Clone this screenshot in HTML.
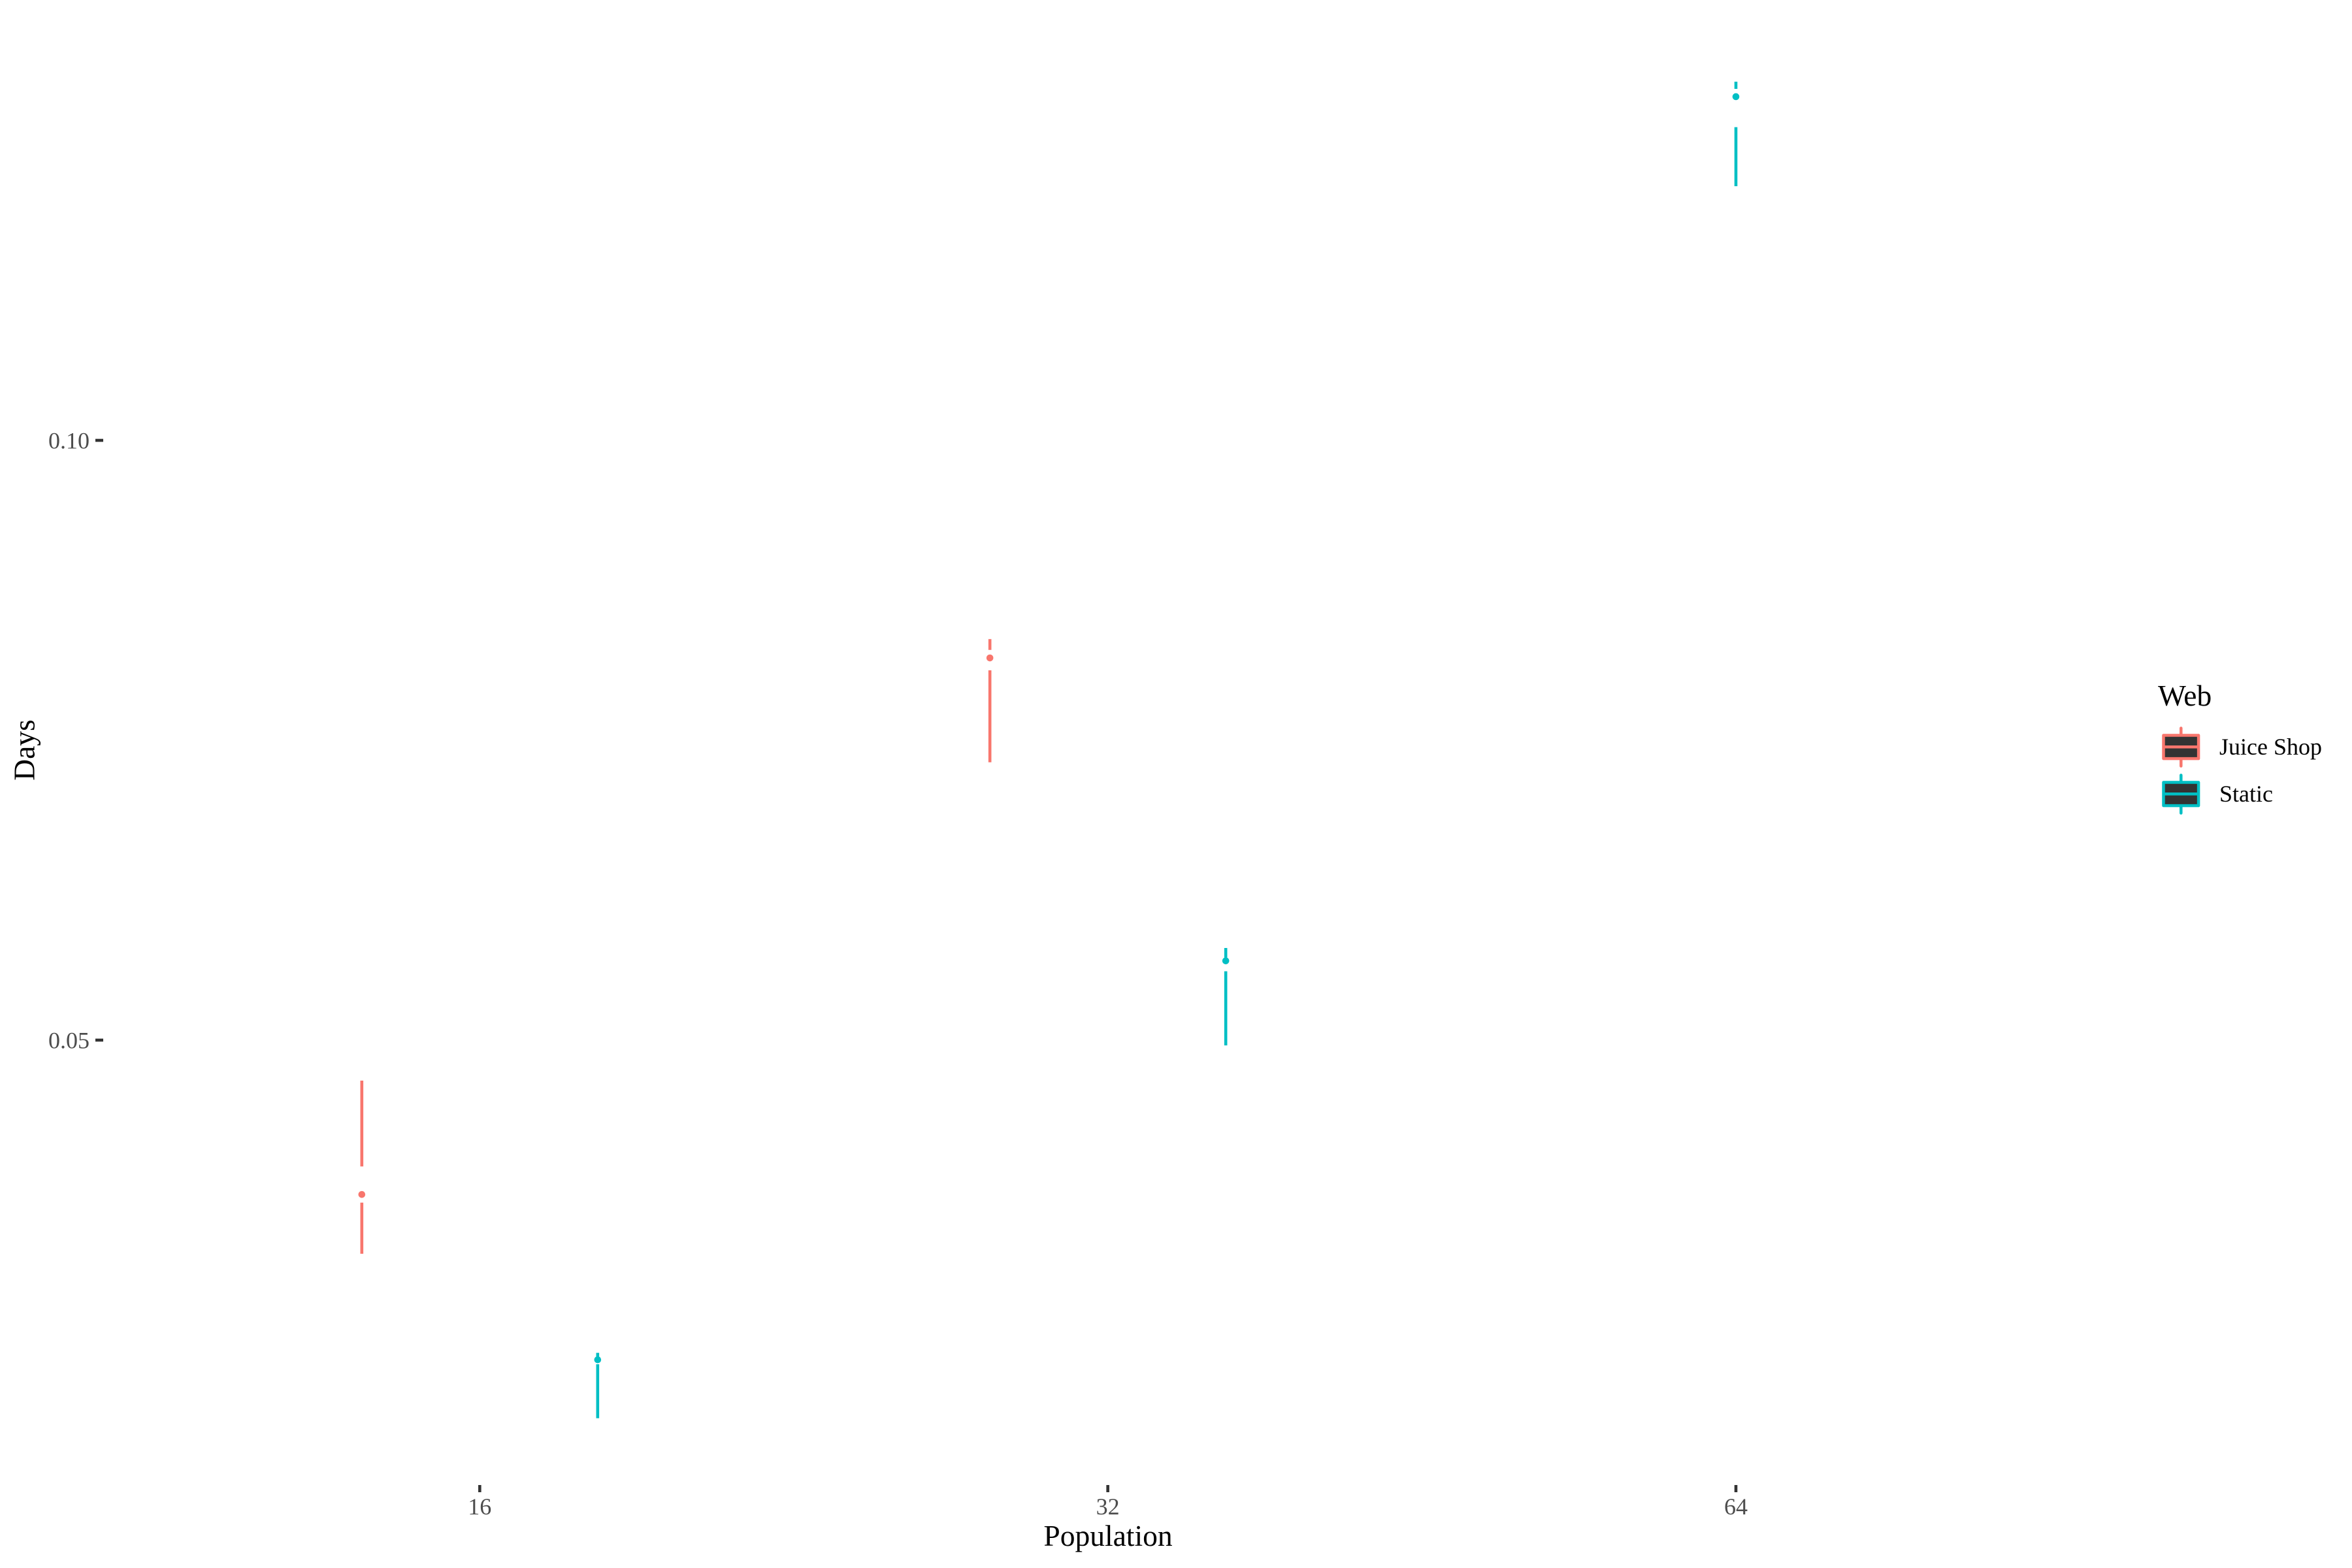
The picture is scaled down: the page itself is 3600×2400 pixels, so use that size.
<!DOCTYPE html>
<html lang="en">
<head>
<meta charset="utf-8">
<title>Days by Population and Web</title>
<style>
html,body{margin:0;padding:0;background:#fff;}
svg{display:block;}
text{font-family:"Liberation Serif",serif;}
</style>
</head>
<body>
<svg id="chart" xmlns="http://www.w3.org/2000/svg" width="3600" height="2400" viewBox="0 0 3600 2400">
  <rect x="0" y="0" width="3600" height="2400" fill="#ffffff"/>
  <g id="y-axis"></g>
  <g id="x-axis"></g>
  <g id="marks"></g>
  <text x="1696" y="2366" text-anchor="middle" font-size="45.5" fill="#000000">Population</text>
  <text x="52.7" y="1148" text-anchor="middle" font-size="45.5" fill="#000000" transform="rotate(-90 52.7 1148)">Days</text>
  <g>
    <text x="3303" y="1080" font-size="45.5" fill="#000000">Web</text>
    <g>
      <line x1="3338.3" x2="3338.3" y1="1114.5" y2="1172.5" stroke="#F8766D" stroke-width="4.5" stroke-linecap="round"/>
      <rect x="3311.5" y="1125.5" width="53.6" height="35.6" fill="#333333" stroke="#F8766D" stroke-width="4.5" stroke-linejoin="round"/>
      <line x1="3311.5" x2="3365.1" y1="1143.3" y2="1143.3" stroke="#F8766D" stroke-width="4.5"/>
      <text x="3397" y="1155" font-size="36" fill="#000000">Juice Shop</text>
    </g>
    <g>
      <line x1="3338.3" x2="3338.3" y1="1186.5" y2="1244.5" stroke="#00BFC4" stroke-width="4.5" stroke-linecap="round"/>
      <rect x="3311.5" y="1197.5" width="53.6" height="35.6" fill="#333333" stroke="#00BFC4" stroke-width="4.5" stroke-linejoin="round"/>
      <line x1="3311.5" x2="3365.1" y1="1215.3" y2="1215.3" stroke="#00BFC4" stroke-width="4.5"/>
      <text x="3397" y="1227" font-size="36" fill="#000000">Static</text>
    </g>
  </g>
</svg>
<script>
// Chart data
var populations = [16, 32, 64];
var xTickLabels = ['16', '32', '64'];
var yTickValues = [0.05, 0.10];
var yTickLabels = ['0.05', '0.10'];

var juiceMax    = [0.04662, 0.08343, null];
var juiceUpper  = [0.03947, 0.08253, null];
var juiceMedian = [0.03713, 0.08186, null];
var juiceLower  = [0.03645, 0.08083, null];
var juiceMin    = [0.03219, 0.07316, null];

var staticMax    = [0.02393, 0.05768, 0.12990];
var staticUpper  = [0.02353, 0.05688, 0.12930];
var staticMedian = [0.02335, 0.05661, 0.12865];
var staticLower  = [0.02298, 0.05574, 0.12611];
var staticMin    = [0.01848, 0.04956, 0.12119];

// Axis functions (log2 x scale, linear y scale)
function xScale(p) { return 734.3 + (Math.log(p / 16) / Math.LN2) * 961.35; }
function yScale(v) { return 674 + (0.10 - v) * 18360; }

var SVG_NS = 'http://www.w3.org/2000/svg';
var marks = document.getElementById('marks');
var yAxis = document.getElementById('y-axis');
var xAxis = document.getElementById('x-axis');
var DODGE = 180.5;
var WHISKER_W = 4.6;

function addLine(parent, x1, y1, x2, y2, color, width) {
  var l = document.createElementNS(SVG_NS, 'line');
  l.setAttribute('x1', x1);
  l.setAttribute('y1', y1);
  l.setAttribute('x2', x2);
  l.setAttribute('y2', y2);
  l.setAttribute('stroke', color);
  l.setAttribute('stroke-width', width);
  parent.appendChild(l);
  return l;
}

function addText(parent, x, y, str, anchor) {
  var t = document.createElementNS(SVG_NS, 'text');
  t.setAttribute('x', x);
  t.setAttribute('y', y);
  t.setAttribute('text-anchor', anchor);
  t.setAttribute('font-size', '36');
  t.setAttribute('fill', '#4D4D4D');
  t.textContent = str;
  parent.appendChild(t);
  return t;
}

yTickValues.forEach(function (v, i) {
  var y = yScale(v);
  var tick = addLine(yAxis, 146, y, 158, y, '#333333', 4.6);
  
  
  var label = addText(yAxis, 137, y + 12.5, yTickLabels[i], 'end');
  
  
});

populations.forEach(function (p, i) {
  var x = xScale(p);
  var tick = addLine(xAxis, x, 2273, x, 2284, '#333333', 4.6);
  
  
  var label = addText(xAxis, x, 2318, xTickLabels[i], 'middle');
  
  
});

function drawMark(seriesName, color, cx, vMax, vUpper, vMedian, vLower, vMin) {
  var g = document.createElementNS(SVG_NS, 'g');
  
  
  marks.appendChild(g);

  var up = addLine(g, cx, yScale(vMax), cx, yScale(vUpper), color, WHISKER_W);
  
  

  var low = addLine(g, cx, yScale(vLower), cx, yScale(vMin), color, WHISKER_W);
  
  

  var dot = document.createElementNS(SVG_NS, 'circle');
  dot.setAttribute('cx', cx);
  dot.setAttribute('cy', yScale(vMedian));
  dot.setAttribute('r', 5.3);
  dot.setAttribute('fill', color);
  
  
  g.appendChild(dot);
}

populations.forEach(function (p, i) {
  var hasJuice = juiceMedian[i] !== null;
  var hasStatic = staticMedian[i] !== null;
  var both = hasJuice && hasStatic;
  var cx = xScale(p);
  if (hasJuice) {
    drawMark('juice-shop-' + p, '#F8766D', both ? cx - DODGE : cx,
      juiceMax[i], juiceUpper[i], juiceMedian[i], juiceLower[i], juiceMin[i]);
  }
  if (hasStatic) {
    drawMark('static-' + p, '#00BFC4', both ? cx + DODGE : cx,
      staticMax[i], staticUpper[i], staticMedian[i], staticLower[i], staticMin[i]);
  }
});
</script>
</body>
</html>
